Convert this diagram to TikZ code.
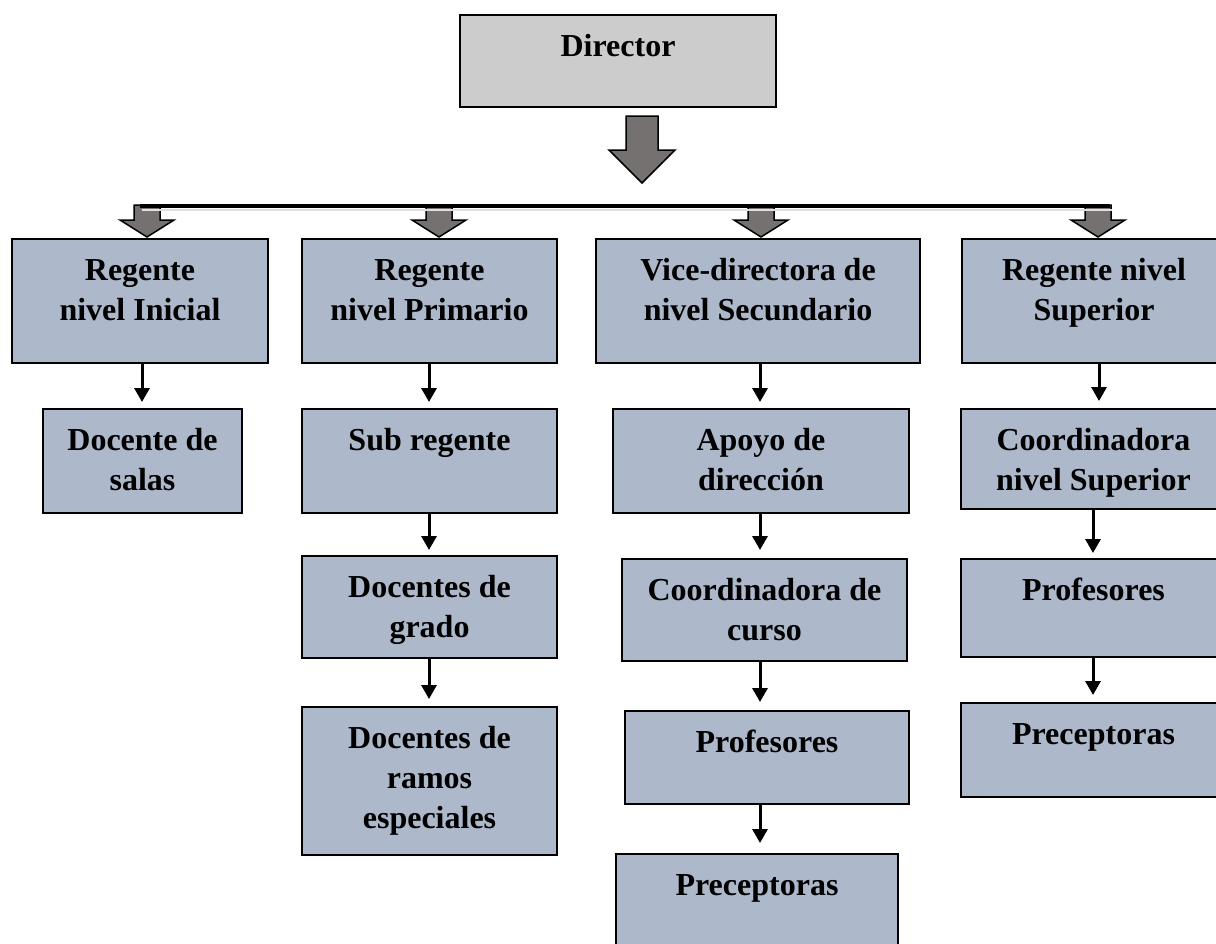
\documentclass[tikz,border=0pt]{standalone}
\usepackage{fontspec}
\setmainfont{Liberation Serif}
\usetikzlibrary{arrows.meta}
\definecolor{boxblue}{RGB}{173,185,202}
\definecolor{dirgray}{RGB}{204,204,204}
\definecolor{arrgray}{RGB}{118,113,113}
\tikzset{
  orgnode/.style={draw=black, line width=2pt, fill=boxblue, inner sep=0pt, outer sep=0pt,
    font=\bfseries\fontsize{32}{40}\selectfont},
  blockarr/.style={draw=black, line width=1.5pt, fill=arrgray, line join=miter},
  thinarr/.style={line width=3pt, -{Triangle[width=15pt,length=14pt]}},
}
% #1 extra style, #2 name, #3 x1, #4 y1, #5 x2, #6 y2, #7 text
\newcommand{\orgbox}[7][]{%
  \node[orgnode,#1,anchor=north west] (#2) at (#3,#4)
   {\parbox[c][\dimexpr #6pt-#4pt\relax][t]{\dimexpr #5pt-#3pt\relax}{\centering\rule{0pt}{41pt}#7}};}
% #1 x, #2 ytop, #3 yhead, #4 ytip, #5 shaft half, #6 head half
\newcommand{\blockarrow}[6]{%
  \draw[blockarr] (#1-#5,#2) -- (#1+#5,#2) -- (#1+#5,#3) -- (#1+#6,#3) -- (#1,#4)
     -- (#1-#6,#3) -- (#1-#5,#3) -- cycle;}
\begin{document}
\begin{tikzpicture}[x=1pt,y=-1pt]
\useasboundingbox (0,0) rectangle (1216,943);

% Director
\orgbox[fill=dirgray]{dir}{460}{15}{776}{107}{Director}

% big arrow
\blockarrow{642}{116}{150}{183}{16}{33}

% small block arrows
\blockarrow{147}{205}{220}{237}{13}{27}
\blockarrow{439}{205}{220}{237}{13}{27}
\blockarrow{761}{205}{220}{237}{13}{27}
\blockarrow{1098}{205}{220}{237}{13}{27}

% horizontal bar with soft shadow
\coordinate (barL) at (140,206);
\coordinate (barR) at (1110,206);
\draw[line width=2pt, black!12] ([shift={(2,4)}]barL) -- ([shift={(2,4)}]barR);
\draw[line width=4pt] (barL) -- (barR);

% level heads
\orgbox{r1}{12}{239}{268}{363}{Regente\\nivel Inicial}
\orgbox{r2}{302}{239}{557}{363}{Regente\\nivel Primario}
\orgbox{r3}{596}{239}{920}{363}{Vice-directora de\\nivel Secundario}
\orgbox{r4}{962}{239}{1226}{363}{Regente nivel\\Superior}

% column 1
\orgbox{salas}{43}{409}{242}{513}{Docente de\\salas}

% column 2
\orgbox{sub}{302}{409}{557}{513}{Sub regente}
\orgbox{grado}{302}{556}{557}{658}{Docentes de\\grado}
\orgbox{ramos}{302}{707}{557}{855}{Docentes de\\ramos\\especiales}

% column 3
\orgbox{apoyo}{613}{409}{909}{513}{Apoyo de\\dirección}
\orgbox{coordc}{622}{559}{907}{661}{Coordinadora de\\curso}
\orgbox{prof3}{625}{711}{909}{804}{Profesores}
\orgbox{prec3}{616}{854}{898}{965}{Preceptoras}

% column 4
\orgbox{coord4}{961}{409}{1226}{509}{Coordinadora\\nivel Superior}
\orgbox{prof4}{961}{559}{1226}{657}{Profesores}
\orgbox{prec4}{961}{703}{1226}{797}{Preceptoras}

% column axes for thin arrows
\coordinate (c1) at (142,0);
\coordinate (c2) at (429,0);
\coordinate (c3) at (760,0);
\coordinate (c4a) at (1099,0);
\coordinate (c4) at (1093,0);

\draw[thinarr] (r1.south -| c1) -- ([yshift=7pt]salas.north -| c1);

\draw[thinarr] (r2.south -| c2) -- ([yshift=7pt]sub.north -| c2);
\draw[thinarr] (sub.south -| c2) -- ([yshift=6pt]grado.north -| c2);
\draw[thinarr] (grado.south -| c2) -- ([yshift=8pt]ramos.north -| c2);

\draw[thinarr] (r3.south -| c3) -- ([yshift=7pt]apoyo.north -| c3);
\draw[thinarr] (apoyo.south -| c3) -- ([yshift=9pt]coordc.north -| c3);
\draw[thinarr] (coordc.south -| c3) -- ([yshift=9pt]prof3.north -| c3);
\draw[thinarr] (prof3.south -| c3) -- ([yshift=11pt]prec3.north -| c3);

\draw[thinarr] (r4.south -| c4a) -- ([yshift=8pt]coord4.north -| c4a);
\draw[thinarr] (coord4.south -| c4) -- ([yshift=6pt]prof4.north -| c4);
\draw[thinarr] (prof4.south -| c4) -- ([yshift=8pt]prec4.north -| c4);
\end{tikzpicture}
\end{document}
